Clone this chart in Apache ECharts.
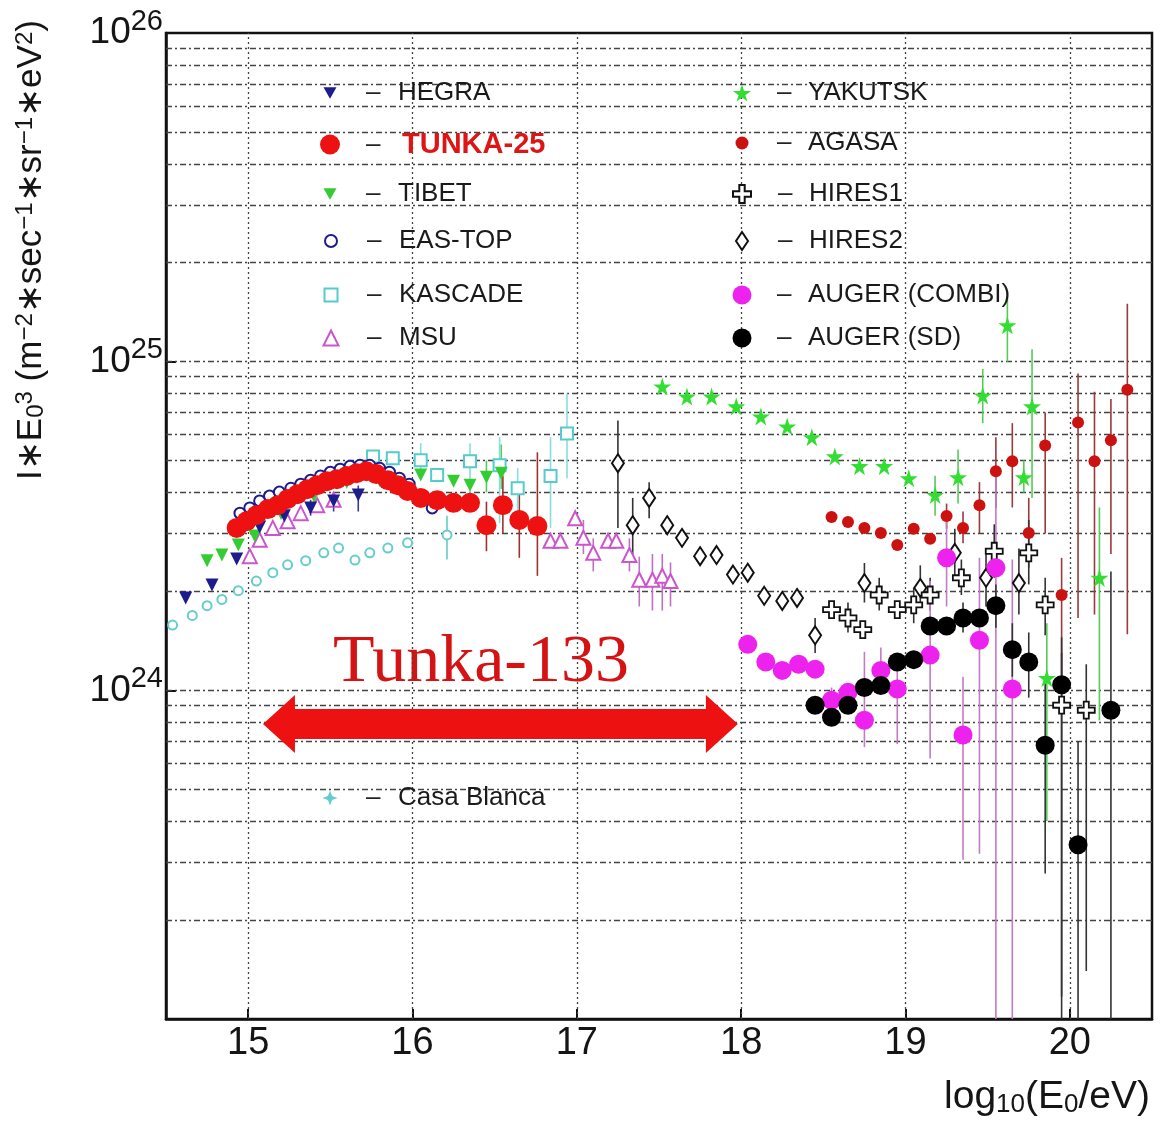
<!DOCTYPE html>
<html>
<head>
<meta charset="utf-8">
<script src="https://cdn.jsdelivr.net/npm/echarts@6/dist/echarts.min.js"></script>
<style>
  html, body { margin: 0; background: #fff; }
  #chart { width: 1163px; height: 1124px; }
</style>
</head>
<body>
<div id="chart"></div>
<script>
// values: x = log10(E0/eV), y = I*E0^3
var xTicks = [15, 16, 17, 18, 19, 20];

var hegraX = [14.62, 14.78, 14.93, 15.07, 15.22, 15.38, 15.52, 15.67];
var hegraY = [1.91e24, 2.09e24, 2.51e24, 3.14e24, 3.4e24, 3.59e24, 3.77e24, 3.93e24];
var hegraErrX = [15.38, 15.52, 15.67];
var hegraLo = [3.4e24, 3.5e24, 3.5e24];
var hegraHi = [3.8e24, 4.0e24, 4.2e24];

var tunkaX = [14.93, 14.99, 15.05, 15.12, 15.18, 15.24, 15.30, 15.36, 15.42, 15.48, 15.54, 15.60, 15.66,
  15.72, 15.78, 15.85, 15.91, 15.97, 16.05, 16.15, 16.25, 16.35, 16.45, 16.55, 16.65, 16.76];
var tunkaY = [3.12e24, 3.27e24, 3.41e24, 3.56e24, 3.66e24, 3.82e24, 3.95e24, 4.09e24, 4.21e24, 4.33e24, 4.39e24, 4.49e24, 4.58e24,
  4.64e24, 4.55e24, 4.36e24, 4.21e24, 4.04e24, 3.85e24, 3.79e24, 3.72e24, 3.72e24, 3.18e24, 3.66e24, 3.30e24, 3.16e24];
var tunkaErrX = [16.45, 16.55, 16.65, 16.76];
var tunkaLo = [2.65e24, 3.0e24, 2.53e24, 2.23e24];
var tunkaHi = [3.75e24, 4.5e24, 4.12e24, 5.3e24];

var tibetX = [14.75, 14.84, 14.94, 15.04, 15.2, 15.4, 15.6, 15.8, 16.05, 16.25, 16.35, 16.45, 16.54];
var tibetY = [2.48e24, 2.58e24, 2.77e24, 2.95e24, 3.45e24, 3.9e24, 4.3e24, 4.35e24, 4.52e24, 4.33e24, 4.21e24, 4.45e24, 4.58e24];
var tibetErrX = [16.45, 16.54];
var tibetLo = [4.0e24, 4.1e24];
var tibetHi = [5.0e24, 5.6e24];

var easX = [14.95, 15.01, 15.07, 15.13, 15.19, 15.26, 15.32, 15.38, 15.44, 15.50, 15.56, 15.62, 15.68,
  15.74, 15.80, 15.86, 15.92, 15.98, 16.12];
var easY = [3.46e24, 3.59e24, 3.77e24, 3.90e24, 4.01e24, 4.12e24, 4.24e24, 4.36e24, 4.49e24, 4.61e24, 4.71e24, 4.81e24, 4.84e24,
  4.84e24, 4.74e24, 4.61e24, 4.42e24, 4.24e24, 3.59e24];

var kasX = [15.76, 15.88, 16.05, 16.15, 16.35, 16.53, 16.64, 16.84, 16.94];
var kasY = [5.15e24, 5.08e24, 5.01e24, 4.52e24, 4.98e24, 4.84e24, 4.12e24, 4.49e24, 6.05e24];
var kasErrX = [16.05, 16.35, 16.53, 16.64, 16.84, 16.94];
var kasLo = [4.42e24, 3.59e24, 3.23e24, 3.34e24, 3.12e24, 4.42e24];
var kasHi = [5.65e24, 5.65e24, 5.89e24, 4.74e24, 5.89e24, 8.0e24];

var msuX = [15.01, 15.07, 15.15, 15.24, 15.32, 15.42, 15.52, 16.84, 16.90, 16.99, 17.04, 17.10, 17.19,
  17.24, 17.32, 17.38, 17.46, 17.52, 17.57];
var msuY = [2.56e24, 2.87e24, 3.12e24, 3.27e24, 3.46e24, 3.66e24, 3.8e24, 2.85e24, 2.85e24, 3.34e24, 2.91e24, 2.62e24, 2.85e24,
  2.85e24, 2.58e24, 2.17e24, 2.17e24, 2.23e24, 2.15e24];
var msuErrX = [17.04, 17.10, 17.32, 17.38, 17.46, 17.52, 17.57];
var msuLo = [2.6e24, 2.3e24, 2.3e24, 1.8e24, 1.75e24, 1.75e24, 1.8e24];
var msuHi = [3.3e24, 2.9e24, 2.9e24, 2.55e24, 2.6e24, 2.6e24, 2.45e24];

var cbX = [14.54, 14.66, 14.75, 14.84, 14.94, 15.05, 15.15, 15.24, 15.35, 15.46, 15.55, 15.65, 15.74, 15.85, 15.97, 16.21];
var cbY = [1.58e24, 1.69e24, 1.81e24, 1.89e24, 2.01e24, 2.15e24, 2.28e24, 2.41e24, 2.48e24, 2.62e24, 2.71e24, 2.49e24,
  2.62e24, 2.71e24, 2.81e24, 2.97e24];
var cbErrX = [16.21];
var cbLo = [2.5e24];
var cbHi = [3.4e24];

var yakX = [17.52, 17.67, 17.82, 17.97, 18.12, 18.28, 18.43, 18.57, 18.72, 18.87, 19.02, 19.18, 19.32,
  19.47, 19.62, 19.72, 19.77, 19.86, 20.18];
var yakY = [8.40e24, 7.83e24, 7.83e24, 7.31e24, 6.81e24, 6.35e24, 5.89e24, 5.15e24, 4.81e24, 4.81e24, 4.42e24, 3.93e24, 4.45e24,
  7.89e24, 1.29e25, 4.45e24, 7.31e24, 1.09e24, 2.20e24];
var yakErrX = [19.18, 19.32, 19.47, 19.62, 19.72, 19.77, 19.86, 20.18];
var yakLo = [3.4e24, 3.7e24, 6.5e24, 1.0e25, 4.0e24, 3.85e24, 4.0e23, 8.1e23];
var yakHi = [4.5e24, 5.4e24, 9.5e24, 1.55e25, 5.0e24, 1.09e25, 1.6e24, 3.6e24];

var agasaX = [18.55, 18.65, 18.75, 18.85, 18.95, 19.05, 19.15, 19.25, 19.35, 19.45, 19.55, 19.65, 19.75,
  19.85, 19.95, 20.05, 20.15, 20.25, 20.35];
var agasaY = [3.37e24, 3.25e24, 3.12e24, 3.01e24, 2.77e24, 3.10e24, 2.89e24, 3.39e24, 3.12e24, 3.66e24, 4.64e24, 4.98e24, 3.01e24,
  5.56e24, 1.95e24, 6.53e24, 4.98e24, 5.77e24, 8.22e24];
var agasaErrX = [19.25, 19.35, 19.45, 19.55, 19.65, 19.75, 19.85, 19.95, 20.05, 20.15, 20.25, 20.35];
var agasaLo = [3.1e24, 2.8e24, 3.01e24, 3.59e24, 3.6e24, 2.36e24, 3.0e24, 1.09e24, 1.66e24, 1.7e24, 2.6e24, 1.48e24];
var agasaHi = [3.7e24, 3.5e24, 4.30e24, 5.89e24, 6.5e24, 3.85e24, 7.0e24, 2.53e24, 9.2e24, 8.1e24, 7.7e24, 1.5e25];

var hires1X = [18.55, 18.65, 18.74, 18.84, 18.95, 19.05, 19.15, 19.34, 19.54, 19.75, 19.85, 19.95, 20.10];
var hires1Y = [1.76e24, 1.66e24, 1.53e24, 1.95e24, 1.76e24, 1.82e24, 1.95e24, 2.20e24, 2.65e24, 2.62e24, 1.82e24, 9.01e23, 8.70e23];
var hires1ErrX = [18.65, 18.84, 19.05, 19.15, 19.34, 19.54, 19.75, 19.85, 19.95, 20.10];
var hires1Lo = [1.5e24, 1.75e24, 1.6e24, 1.75e24, 1.95e24, 2.2e24, 2.1e24, 1.47e24, 1.17e23, 1.40e23];
var hires1Hi = [1.85e24, 2.2e24, 2.05e24, 2.2e24, 2.5e24, 3.2e24, 3.3e24, 2.2e24, 1.3e24, 1.2e24];

var hires2X = [17.25, 17.34, 17.44, 17.55, 17.64, 17.75, 17.85, 17.95, 18.04, 18.14, 18.25, 18.34, 18.45,
  18.75, 19.09, 19.30, 19.49, 19.69];
var hires2Y = [4.91e24, 3.18e24, 3.85e24, 3.18e24, 2.91e24, 2.56e24, 2.58e24, 2.25e24, 2.28e24, 1.94e24, 1.87e24, 1.91e24, 1.47e24,
  2.12e24, 2.05e24, 2.62e24, 2.20e24, 2.12e24];
var hires2ErrX = [17.25, 17.34, 17.44, 18.45, 18.75, 19.09, 19.30, 19.49, 19.69];
var hires2Lo = [3.12e24, 2.53e24, 3.34e24, 1.30e24, 1.85e24, 1.8e24, 2.2e24, 1.8e24, 1.7e24];
var hires2Hi = [6.62e24, 3.85e24, 4.3e24, 1.66e24, 2.44e24, 2.4e24, 3.1e24, 2.7e24, 2.7e24];

var combiX = [18.04, 18.15, 18.25, 18.35, 18.45, 18.55, 18.65, 18.75, 18.85, 18.95, 19.15, 19.25, 19.35, 19.45, 19.55, 19.65];
var combiY = [1.38e24, 1.22e24, 1.15e24, 1.20e24, 1.16e24, 9.33e23, 9.86e23, 8.11e23, 1.15e24, 1.01e24, 1.28e24, 2.53e24,
  7.31e23, 1.42e24, 2.36e24, 1.01e24];
var combiErrX = [18.55, 18.75, 18.85, 18.95, 19.15, 19.25, 19.35, 19.45, 19.55, 19.65];
var combiLo = [8.5e23, 6.72e23, 1.0e24, 6.86e23, 6.2e23, 1.8e24, 3.05e23, 3.18e23, 1.0e23, 1.0e23];
var combiHi = [1.02e24, 1.31e24, 1.35e24, 1.15e24, 2.15e24, 3.3e24, 1.1e24, 2.53e24, 4.6e24, 2.5e24];

var sdX = [18.45, 18.55, 18.65, 18.75, 18.85, 18.95, 19.05, 19.15, 19.25, 19.35, 19.45, 19.55, 19.65, 19.75,
  19.85, 19.95, 20.05, 20.25];
var sdY = [9.01e23, 8.28e23, 9.01e23, 1.02e24, 1.035e24, 1.22e24, 1.24e24, 1.57e24, 1.57e24, 1.66e24, 1.66e24, 1.81e24,
  1.33e24, 1.22e24, 6.81e23, 1.04e24, 3.39e23, 8.70e23];
var sdErrX = [19.35, 19.55, 19.65, 19.75, 19.85, 19.95, 20.05, 20.25];
var sdLo = [1.5e24, 1.55e24, 1.1e24, 9.5e23, 2.77e23, 1.0e23, 1.0e23, 1.0e23];
var sdHi = [1.85e24, 2.1e24, 1.6e24, 1.5e24, 1.05e24, 1.45e24, 7.0e23, 2.3e24];

// Tunka-133 energy range arrow
var arrowFrom = 15.09, arrowTo = 17.98, arrowLevel = 7.9e23;

var FONT = 'Liberation Sans, Arial, sans-serif';
var STAR = 'path://M50,0 L61,35 L98,35 L68,57 L79,91 L50,70 L21,91 L32,57 L2,35 L39,35 Z';
var CROSS = 'path://M35,0 H65 V35 H100 V65 H65 V100 H35 V65 H0 V35 H35 Z';
var SPARK = 'path://M50,0 L64,36 L100,50 L64,64 L50,100 L36,64 L0,50 L36,36 Z';
var TRI_DOWN = 'path://M0,0 L100,0 L50,90 Z';

function pts(xs, ys) {
  return xs.map(function (x, i) { return [x, ys[i]]; });
}

function errRender(params, api) {
  var a = api.coord([api.value(0), api.value(1)]);
  var b = api.coord([api.value(0), api.value(2)]);
  return {
    type: 'line',
    shape: { x1: a[0], y1: a[1], x2: b[0], y2: b[1] },
    style: { stroke: api.visual('color'), lineWidth: 1.6 }
  };
}

function errSeries(name, xs, lo, hi, color) {
  return {
    type: 'custom', name: name + ' err', silent: true, clip: true, z: 2,
    itemStyle: { color: color },
    encode: { x: 0, y: [1, 2] },
    data: xs.map(function (x, i) { return [x, lo[i], hi[i]]; }),
    renderItem: errRender
  };
}

function scatter(name, xs, ys, extra) {
  var s = { type: 'scatter', name: name, data: pts(xs, ys), silent: true, z: 4 };
  for (var k in extra) s[k] = extra[k];
  s.itemStyle.opacity = 1;
  return s;
}

// grid lines: every 1..9 x decade on y, integers on x
var yGrid = [];
[23, 24, 25].forEach(function (e) {
  for (var m = 1; m <= 9; m++) if (!(e === 23 && m === 1)) yGrid.push(m * Math.pow(10, e));
});

// legend rows
function legendRow(name, cx, cy, w, h, dashX, textX, bold, icon) {
  return {
    data: [icon ? { name: name, icon: icon } : name],
    left: cx - w / 2, top: cy - 15, itemWidth: w, itemHeight: h,
    padding: 0, selectedMode: false,
    itemStyle: { opacity: 1 },
    formatter: function (n) { return '{d|–}{' + (bold ? 'r' : 'n') + '|' + n + '}'; },
    textStyle: {
      padding: [0, 0, 0, dashX - (cx + w / 2 + 5)],
      rich: {
        d: { fontFamily: FONT, fontSize: 26, lineHeight: 30, color: '#222', width: textX - dashX },
        n: { fontFamily: FONT, fontSize: 26, lineHeight: 30, color: '#1a1a1a' },
        r: { fontFamily: FONT, fontSize: 29, lineHeight: 30, color: '#dd1515', fontWeight: 'bold' }
      }
    }
  };
}

var rowY = [95, 145, 196, 243, 297, 340];
var legends = [
  legendRow('HEGRA', 330, rowY[0], 13, 13, 366, 398, false, TRI_DOWN),
  legendRow('TUNKA-25', 330, rowY[1], 20, 20, 366, 402, true),
  legendRow('TIBET', 330, rowY[2], 13, 13, 366, 398, false, TRI_DOWN),
  legendRow('EAS-TOP', 330, rowY[3], 12, 12, 366, 398),
  legendRow('KASCADE', 330, rowY[4], 13, 13, 366, 398),
  legendRow('MSU', 330, rowY[5], 15, 15, 366, 398),
  legendRow('YAKUTSK', 742, rowY[0], 18, 18, 777, 808),
  legendRow('AGASA', 742, rowY[1], 13, 13, 777, 808),
  legendRow('HIRES1', 741, rowY[2], 18, 18, 777, 808),
  legendRow('HIRES2', 741, rowY[3], 12, 18, 777, 808),
  legendRow('AUGER (COMBI)', 742, rowY[4], 19, 19, 777, 808),
  legendRow('AUGER (SD)', 742, rowY[5], 19, 19, 777, 808),
  legendRow('Casa Blanca', 330, 800, 15, 15, 366, 398, false, SPARK)
];

var chart = echarts.init(document.getElementById('chart'), null, { renderer: 'canvas' });

var option = {
  animation: false,
  backgroundColor: '#fff',
  textStyle: { fontFamily: FONT },
  grid: { left: 166, top: 33, right: 11, bottom: 105, show: true, borderColor: '#111', borderWidth: 2.5 },
  legend: legends,
  xAxis: {
    type: 'value', min: 14.5, max: 20.5,
    axisLine: { show: true, lineStyle: { color: '#111', width: 2.5 } },
    axisTick: { show: true, inside: true, length: 10, customValues: xTicks, lineStyle: { color: '#111', width: 2 } },
    axisLabel: { customValues: xTicks, margin: 6, fontSize: 38, color: '#151515', fontFamily: FONT },
    splitLine: { show: false },
    name: '{a|log}{s|10}{a|(E}{s|0}{a|/eV)}',
    nameLocation: 'end', nameGap: -2,
    nameTextStyle: {
      align: 'right', verticalAlign: 'top', padding: [57, 0, 0, 0],
      rich: {
        a: { fontFamily: FONT, fontSize: 39, lineHeight: 42, color: '#151515' },
        s: { fontFamily: FONT, fontSize: 26, lineHeight: 26, color: '#151515', verticalAlign: 'bottom' }
      }
    }
  },
  yAxis: {
    type: 'log', logBase: 10, min: 1e23, max: 1e26,
    axisLine: { show: true, lineStyle: { color: '#111', width: 2.5 } },
    axisTick: { show: true, inside: true, length: 10, lineStyle: { color: '#111', width: 2 } },
    splitLine: { show: false },
    axisLabel: {
      margin: 3,
      formatter: function (v) {
        var e = Math.round(Math.log(v) / Math.LN10);
        return e === 23 ? '' : '{b|10}{s|' + e + '}';
      },
      rich: {
        b: { fontFamily: FONT, fontSize: 37, lineHeight: 52, color: '#151515' },
        s: { fontFamily: FONT, fontSize: 29, lineHeight: 29, color: '#151515', verticalAlign: 'top' }
      }
    }
  },
  graphic: [
    {
      type: 'text', x: 31, y: 250, rotation: Math.PI / 2,
      style: {
        text: 'I∗E{sub|0}{sup|3} (m{sup|−2}∗sec{sup|−1}∗sr{sup|−1}∗eV{sup|2})',
        fontFamily: FONT, fontSize: 35, fill: '#151515', align: 'center', verticalAlign: 'middle',
        rich: {
          sup: { fontFamily: FONT, fontSize: 24, lineHeight: 24, fill: '#151515', verticalAlign: 'top' },
          sub: { fontFamily: FONT, fontSize: 24, lineHeight: 24, fill: '#151515', verticalAlign: 'bottom' }
        }
      }
    },
    {
      type: 'text', x: 333, y: 629,
      style: { text: 'Tunka-133', fontFamily: 'Liberation Serif, Times New Roman, serif', fontSize: 68, fill: '#d41414' }
    }
  ],
  series: [
    {
      type: 'scatter', name: 'grid', data: [], silent: true,
      markLine: {
        silent: true, symbol: 'none', z: 1, label: { show: false },
        lineStyle: { color: '#444', width: 1.3, type: [6, 3, 2, 3] },
        emphasis: { disabled: true },
        data: yGrid.map(function (v) { return { yAxis: v }; }).concat(
          xTicks.map(function (v) { return { xAxis: v, lineStyle: { type: [2, 3], color: '#444', width: 1.3 } }; }))
      }
    },
    errSeries('HEGRA', hegraErrX, hegraLo, hegraHi, '#3a3a9a'),
    errSeries('TUNKA-25', tunkaErrX, tunkaLo, tunkaHi, '#a03030'),
    errSeries('TIBET', tibetErrX, tibetLo, tibetHi, '#55cc55'),
    errSeries('KASCADE', kasErrX, kasLo, kasHi, '#88dddd'),
    errSeries('MSU', msuErrX, msuLo, msuHi, '#c070c0'),
    errSeries('Casa Blanca', cbErrX, cbLo, cbHi, '#66cccc'),
    errSeries('YAKUTSK', yakErrX, yakLo, yakHi, '#55cc55'),
    errSeries('AGASA', agasaErrX, agasaLo, agasaHi, '#9a3a3a'),
    errSeries('HIRES1', hires1ErrX, hires1Lo, hires1Hi, '#333'),
    errSeries('HIRES2', hires2ErrX, hires2Lo, hires2Hi, '#333'),
    errSeries('AUGER (COMBI)', combiErrX, combiLo, combiHi, '#c27cc2'),
    errSeries('AUGER (SD)', sdErrX, sdLo, sdHi, '#333'),
    {
      type: 'custom', name: 'Tunka-133 range', silent: true, z: 7,
      encode: { x: [0, 1], y: 2 },
      data: [[arrowFrom, arrowTo, arrowLevel]],
      renderItem: function (params, api) {
        var a = api.coord([api.value(0), api.value(2)]);
        var b = api.coord([api.value(1), api.value(2)]);
        var cy = a[1], hl = 32, hh = 29, bh = 15;
        return {
          type: 'polygon',
          shape: { points: [[a[0], cy], [a[0] + hl, cy - hh], [a[0] + hl, cy - bh], [b[0] - hl, cy - bh], [b[0] - hl, cy - hh],
            [b[0], cy], [b[0] - hl, cy + hh], [b[0] - hl, cy + bh], [a[0] + hl, cy + bh], [a[0] + hl, cy + hh]] },
          style: { fill: '#ee1111' }
        };
      }
    },
    scatter('Casa Blanca', cbX, cbY, { symbol: 'emptyCircle', symbolSize: 9, z: 3, itemStyle: { color: '#66cccc', borderWidth: 2 } }),
    scatter('MSU', msuX, msuY, { symbol: 'emptyTriangle', symbolSize: 14, z: 3, itemStyle: { color: '#cc55cc', borderWidth: 1.6 } }),
    scatter('KASCADE', kasX, kasY, { symbol: 'emptyRect', symbolSize: 12, z: 3, itemStyle: { color: '#55cccc', borderWidth: 2 } }),
    scatter('TIBET', tibetX, tibetY, { symbol: 'triangle', symbolRotate: 180, symbolSize: 13, z: 3, itemStyle: { color: '#33cc33' } }),
    scatter('HEGRA', hegraX, hegraY, { symbol: 'triangle', symbolRotate: 180, symbolSize: 13, z: 4, itemStyle: { color: '#1c1c8e' } }),
    scatter('EAS-TOP', easX, easY, { symbol: 'emptyCircle', symbolSize: 11, z: 5, itemStyle: { color: '#1c1c8e', borderWidth: 2.5 } }),
    scatter('TUNKA-25', tunkaX, tunkaY, { symbol: 'circle', symbolSize: 20, z: 6, itemStyle: { color: '#ee1111' } }),
    scatter('YAKUTSK', yakX, yakY, { symbol: STAR, symbolSize: 18, z: 4, itemStyle: { color: '#33dd33' } }),
    scatter('AGASA', agasaX, agasaY, { symbol: 'circle', symbolSize: 12, z: 4, itemStyle: { color: '#cc1111' } }),
    scatter('HIRES2', hires2X, hires2Y, { symbol: 'emptyDiamond', symbolSize: [12, 18], z: 5, itemStyle: { color: '#111', borderWidth: 1.6 } }),
    scatter('HIRES1', hires1X, hires1Y, { symbol: CROSS, symbolSize: 17, z: 5, itemStyle: { color: '#fff', borderColor: '#111', borderWidth: 1.8 } }),
    scatter('AUGER (COMBI)', combiX, combiY, { symbol: 'circle', symbolSize: 19, z: 5, itemStyle: { color: '#ee22ee' } }),
    scatter('AUGER (SD)', sdX, sdY, { symbol: 'circle', symbolSize: 19, z: 6, itemStyle: { color: '#000' } })
  ]
};

chart.setOption(option);
</script>
</body>
</html>
